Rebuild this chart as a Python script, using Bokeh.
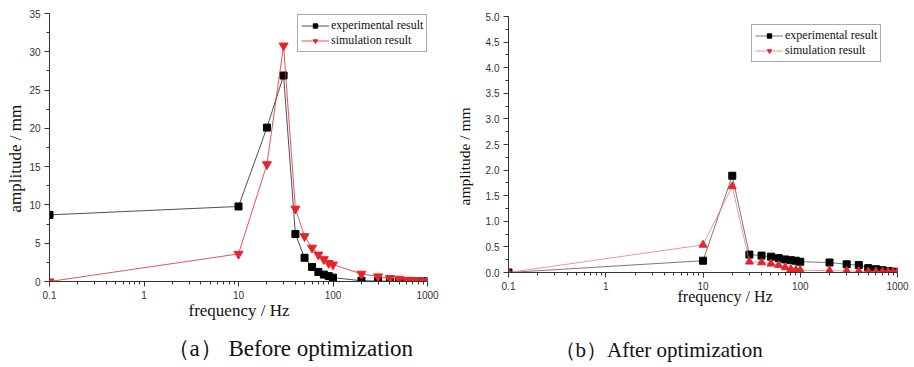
import math
from bokeh.plotting import figure
from bokeh.models import (Range1d, FixedTicker, NumeralTickFormatter, Legend, LegendItem,
                          Title, ColumnDataSource, SingleIntervalTicker)
from bokeh.layouts import row, column
from bokeh.embed import file_html
from bokeh.resources import INLINE

# ---------------- data ----------------
freq = [0.1, 10, 20, 30, 40, 50, 60, 70, 80, 90, 100,
        200, 300, 400, 500, 600, 700, 800, 900, 1000]

before_exp = [8.7, 9.8, 20.1, 26.9, 6.2, 3.1, 1.9, 1.25, 0.9, 0.7, 0.5,
              0.1, 0.06, 0.04, 0.03, 0.02, 0.02, 0.01, 0.01, 0.01]
before_sim = [0.0, 3.6, 15.3, 30.8, 9.5, 5.9, 4.4, 3.5, 2.9, 2.4, 2.2,
              1.0, 0.65, 0.43, 0.35, 0.2, 0.15, 0.1, 0.05, 0.02]

after_exp = [0.0, 0.23, 1.89, 0.35, 0.33, 0.31, 0.28, 0.255, 0.24, 0.23, 0.21,
             0.195, 0.16, 0.145, 0.085, 0.065, 0.045, 0.03, 0.015, 0.01]
after_sim = [0.0, 0.54, 1.68, 0.21, 0.195, 0.17, 0.145, 0.1, 0.065, 0.05, 0.045,
             0.035, 0.03, 0.025, 0.02, 0.02, 0.015, 0.015, 0.01, 0.01]

x_ticks = [0.1, 1, 10, 100, 1000]
x_minor = [m * 10.0 ** e for e in range(-1, 3) for m in range(2, 10)]

series_labels = ["experimental result", "simulation result"]
x_title = "frequency / Hz"
y_title = "amplitude / mm"
captions = ["（a） Before optimization", "（b）After optimization"]

AX = "#333333"
RED = "#e3262c"
SERIF = "Liberation Serif"


def style_axes(p):
    for ax in (p.xaxis[0], p.yaxis[0]):
        ax.axis_line_color = AX
        ax.axis_line_width = 1
        ax.major_tick_line_color = AX
        ax.minor_tick_line_color = AX
        ax.major_tick_out = 5
        ax.major_tick_in = 0
        ax.minor_tick_out = 3
        ax.minor_tick_in = 0
        ax.major_label_text_font = "Liberation Sans"
        ax.major_label_text_font_size = "10px"
        ax.major_label_text_color = AX
        ax.major_label_standoff = 4
    p.xaxis[0].ticker = FixedTicker(ticks=x_ticks, minor_ticks=x_minor)
    p.xaxis[0].formatter = NumeralTickFormatter(format="0.[0]")
    p.xgrid.visible = False
    p.ygrid.visible = False
    p.outline_line_color = None


def title(text, size, offset, standoff):
    return Title(text=text, align="left", offset=offset, standoff=standoff,
                 text_font=SERIF, text_font_size=size, text_font_style="normal",
                 text_color="#111")


def add_titles(p, y_off, y_stand, y_size, x_off, x_stand, x_size, gap, cap, cap_off, cap_size):
    p.add_layout(title(y_title, y_size, y_off, y_stand), "left")
    p.add_layout(title(x_title, x_size, x_off, x_stand), "below")
    # blank spacer between the axis title and the caption
    p.add_layout(Title(text=" ", text_font_size="1px", standoff=gap), "below")
    p.add_layout(title(cap, cap_size, cap_off, 0), "below")


def make_legend(items, loc):
    leg = Legend(items=items, location=loc, border_line_color="#555555", border_line_width=1,
                 background_fill_color="white", background_fill_alpha=1.0,
                 padding=3, spacing=0, margin=0, glyph_width=28, glyph_height=11,
                 label_height=11, label_standoff=2, label_text_font=SERIF,
                 label_text_font_size="12px", label_text_line_height=1.0,
                 label_text_color="#111")
    return leg


# ---------------- (a) before ----------------
p1 = figure(width=443, height=367, x_axis_type="log", x_range=Range1d(0.1, 1000),
            y_range=Range1d(0, 35), output_backend="svg", toolbar_location=None,
            min_border_left=49, min_border_right=16, min_border_top=13, min_border_bottom=86)
style_axes(p1)
p1.yaxis[0].ticker = SingleIntervalTicker(interval=5, num_minor_ticks=2)

src1 = ColumnDataSource(dict(f=freq, e=before_exp, s=before_sim))
l1e = p1.line("f", "e", source=src1, line_color="#222222", line_width=0.8)
m1e = p1.scatter("f", "e", source=src1, marker="square", size=7, fill_color="black", line_color="black")
l1s = p1.line("f", "s", source=src1, line_color=RED, line_width=0.8)
m1s = p1.scatter("f", "s", source=src1, marker="inverted_triangle", size=9, fill_color=RED, line_color=RED)

p1.add_layout(make_legend([LegendItem(label=series_labels[0], renderers=[l1e, m1e]),
                           LegendItem(label=series_labels[1], renderers=[l1s, m1s])], (248, 229)))
add_titles(p1, 69, 4, "17px", 139, -6, "17px", 14, captions[0], 117, "23px")

# ---------------- (b) after ----------------
p2 = figure(width=471, height=367, x_axis_type="log", x_range=Range1d(0.1, 1000),
            y_range=Range1d(0, 5), output_backend="svg", toolbar_location=None,
            min_border_left=65, min_border_right=17, min_border_top=16, min_border_bottom=95)
style_axes(p2)
p2.yaxis[0].ticker = SingleIntervalTicker(interval=0.5, num_minor_ticks=2)
p2.yaxis[0].formatter = NumeralTickFormatter(format="0.0")

src2 = ColumnDataSource(dict(f=freq, e=after_exp, s=after_sim))
l2e = p2.line("f", "e", source=src2, line_color="#555555", line_width=0.8)
m2e = p2.scatter("f", "e", source=src2, marker="square", size=7, fill_color="black", line_color="black")
l2s = p2.line("f", "s", source=src2, line_color="#f07a7a", line_width=0.8)
m2s = p2.scatter("f", "s", source=src2, marker="triangle", size=8, fill_color=RED, line_color=RED)
# legend swatch in the reference shows a down-pointing triangle
leg_src = ColumnDataSource(dict(f=[float("nan")], s=[float("nan")]))
m2leg = p2.scatter("f", "s", source=leg_src, marker="inverted_triangle", size=9,
                   fill_color=RED, line_color=RED)

p2.add_layout(make_legend([LegendItem(label=series_labels[0], renderers=[l2e, m2e]),
                           LegendItem(label=series_labels[1], renderers=[l2s, m2leg])], (243, 210)))
add_titles(p2, 67, 20, "15.5px", 169, -13, "16px", 34, captions[1], 46, "21px")

layout = row(column(p1), column(p2))
open("out.html", "w").write(file_html(layout, INLINE))
